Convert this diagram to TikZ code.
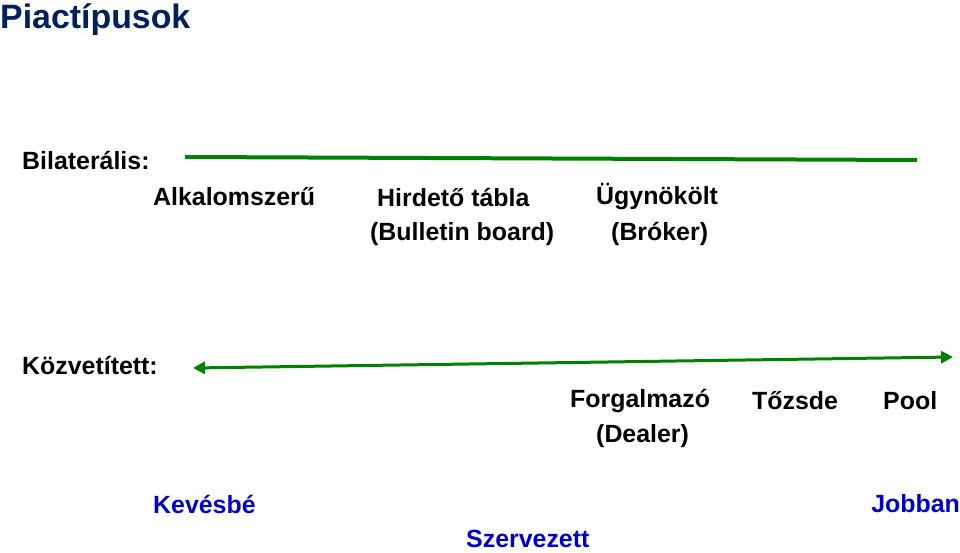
\documentclass[tikz,border=0pt]{standalone}
\usepackage{fontspec}
\setmainfont{Liberation Sans}
\usetikzlibrary{arrows.meta}
\definecolor{titleblue}{RGB}{0,32,96}
\definecolor{labelblue}{RGB}{0,0,204}
\definecolor{linegreen}{RGB}{0,128,0}
\tikzset{
	lbl/.style={anchor=west,inner sep=0pt,font=\fontsize{25}{30}\selectfont\bfseries},
	scalelbl/.style={anchor=west,inner sep=0pt,font=\fontsize{25}{30}\selectfont\bfseries,text=labelblue},
	axis/.style={linegreen,line width=4bp}
}
\begin{document}
\begin{tikzpicture}[x=1bp,y=-1bp]
	\useasboundingbox (0,0) rectangle (960,553);
	\node[anchor=west,inner sep=0pt,font=\fontsize{34}{40}\selectfont\bfseries,text=titleblue] (title) at (0,20) {Piactípusok};
	%
	\node[lbl] (bil) at (22,160) {Bilaterális:};
	\node[lbl] (alk) at (153,197) {Alkalomszerű};
	\node[lbl] (hir) at (377,197) {Hirdető tábla};
	\node[lbl] (ugy) at (596,197) {Ügynökölt};
	\node[lbl] (bul) at (370,234) {(Bulletin board)};
	\node[lbl] (bro) at (611,234) {(Bróker)};
	\coordinate (b1) at (185,157);
	\coordinate (b2) at (917,160);
	\draw[axis] (b1) -- (b2);
	%
	\node[lbl] (koz) at (22,365) {Közvetített:};
	\node[lbl] (for) at (570,401) {Forgalmazó};
	\node[lbl] (toz) at (752,401) {Tőzsde};
	\node[lbl] (pool) at (883,401) {Pool};
	\node[lbl] (dea) at (596,436) {(Dealer)};
	\coordinate (k1) at (193,368);
	\coordinate (k2) at (953,357);
	\draw[axis,line width=3bp,{Triangle[length=12bp,width=12bp]}-{Triangle[length=12bp,width=12bp]}] (k1) -- (k2);
	%
	\node[scalelbl] (kev) at (153,504) {Kevésbé};
	\node[scalelbl,anchor=east] (job) at (960,504) {Jobban};
	\node[scalelbl] (sze) at (466,539) {Szervezett};
\end{tikzpicture}
\end{document}
